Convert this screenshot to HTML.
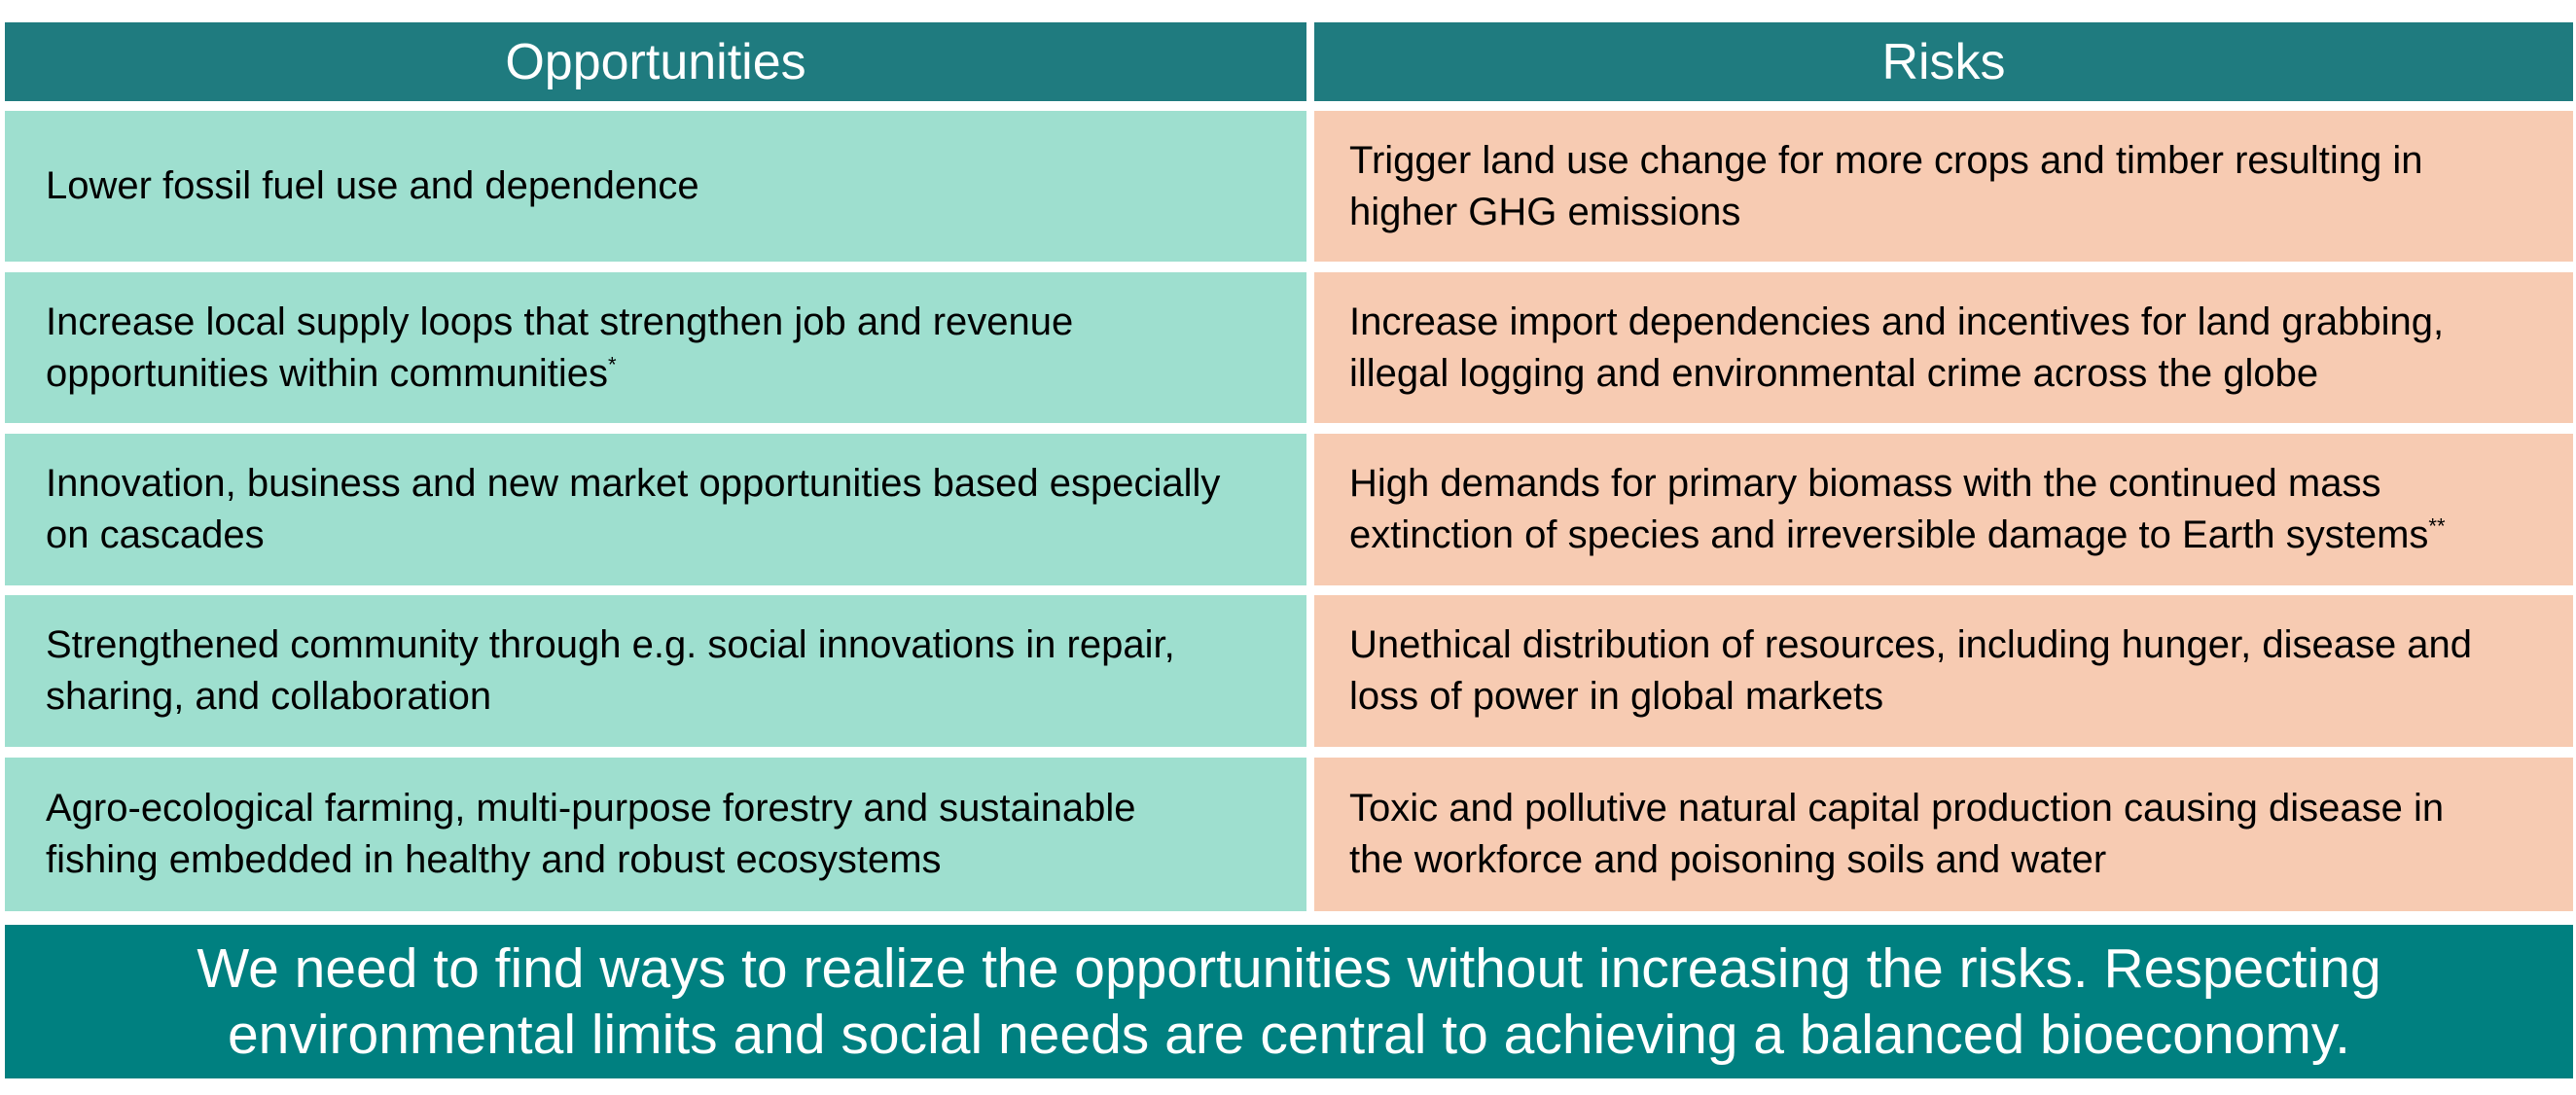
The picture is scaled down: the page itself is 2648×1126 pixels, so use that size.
<!DOCTYPE html>
<html><head><meta charset="utf-8">
<style>
html,body{margin:0;padding:0;background:#fff;}
body{width:2648px;height:1126px;position:relative;overflow:hidden;font-family:"Liberation Sans",sans-serif;}
.box{position:absolute;display:flex;align-items:center;box-sizing:border-box;}
.hdr{background:#1f7b7f;color:#fff;justify-content:center;font-size:52px;}
.opp{background:#9edfcf;color:#000;padding-left:42px;font-size:40px;line-height:53px;}
.risk{background:#f7cbb2;color:#000;padding-left:36px;font-size:40px;line-height:53px;}
.banner{background:#008080;color:#fff;justify-content:center;text-align:center;font-size:57px;line-height:68px;}
sup{font-size:22px;line-height:0;}
</style></head><body>
<div class="box hdr" style="left:5px;top:23px;width:1338px;height:81px;">Opportunities</div>
<div class="box hdr" style="left:1351px;top:23px;width:1294px;height:81px;">Risks</div>

<div class="box opp" style="left:5px;top:114px;width:1338px;height:155px;">Lower fossil fuel use and dependence</div>
<div class="box risk" style="left:1351px;top:114px;width:1294px;height:155px;"><div>Trigger land use change for more crops and timber resulting in<br>higher GHG emissions</div></div>

<div class="box opp" style="left:5px;top:280px;width:1338px;height:155px;"><div>Increase local supply loops that strengthen job and revenue<br>opportunities within communities<sup>*</sup></div></div>
<div class="box risk" style="left:1351px;top:280px;width:1294px;height:155px;"><div>Increase import dependencies and incentives for land grabbing,<br>illegal logging and environmental crime across the globe</div></div>

<div class="box opp" style="left:5px;top:446px;width:1338px;height:156px;"><div>Innovation, business and new market opportunities based especially<br>on cascades</div></div>
<div class="box risk" style="left:1351px;top:446px;width:1294px;height:156px;"><div>High demands for primary biomass with the continued mass<br>extinction of species and irreversible damage to Earth systems<sup>**</sup></div></div>

<div class="box opp" style="left:5px;top:612px;width:1338px;height:156px;"><div>Strengthened community through e.g. social innovations in repair,<br>sharing, and collaboration</div></div>
<div class="box risk" style="left:1351px;top:612px;width:1294px;height:156px;"><div>Unethical distribution of resources, including hunger, disease and<br>loss of power in global markets</div></div>

<div class="box opp" style="left:5px;top:779px;width:1338px;height:158px;"><div>Agro-ecological farming, multi-purpose forestry and sustainable<br>fishing embedded in healthy and robust ecosystems</div></div>
<div class="box risk" style="left:1351px;top:779px;width:1294px;height:158px;"><div>Toxic and pollutive natural capital production causing disease in<br>the workforce and poisoning soils and water</div></div>

<div class="box banner" style="left:5px;top:951px;width:2640px;height:158px;"><div>We need to find ways to realize the opportunities without increasing the risks. Respecting<br>environmental limits and social needs are central to achieving a balanced bioeconomy.</div></div>
</body></html>
